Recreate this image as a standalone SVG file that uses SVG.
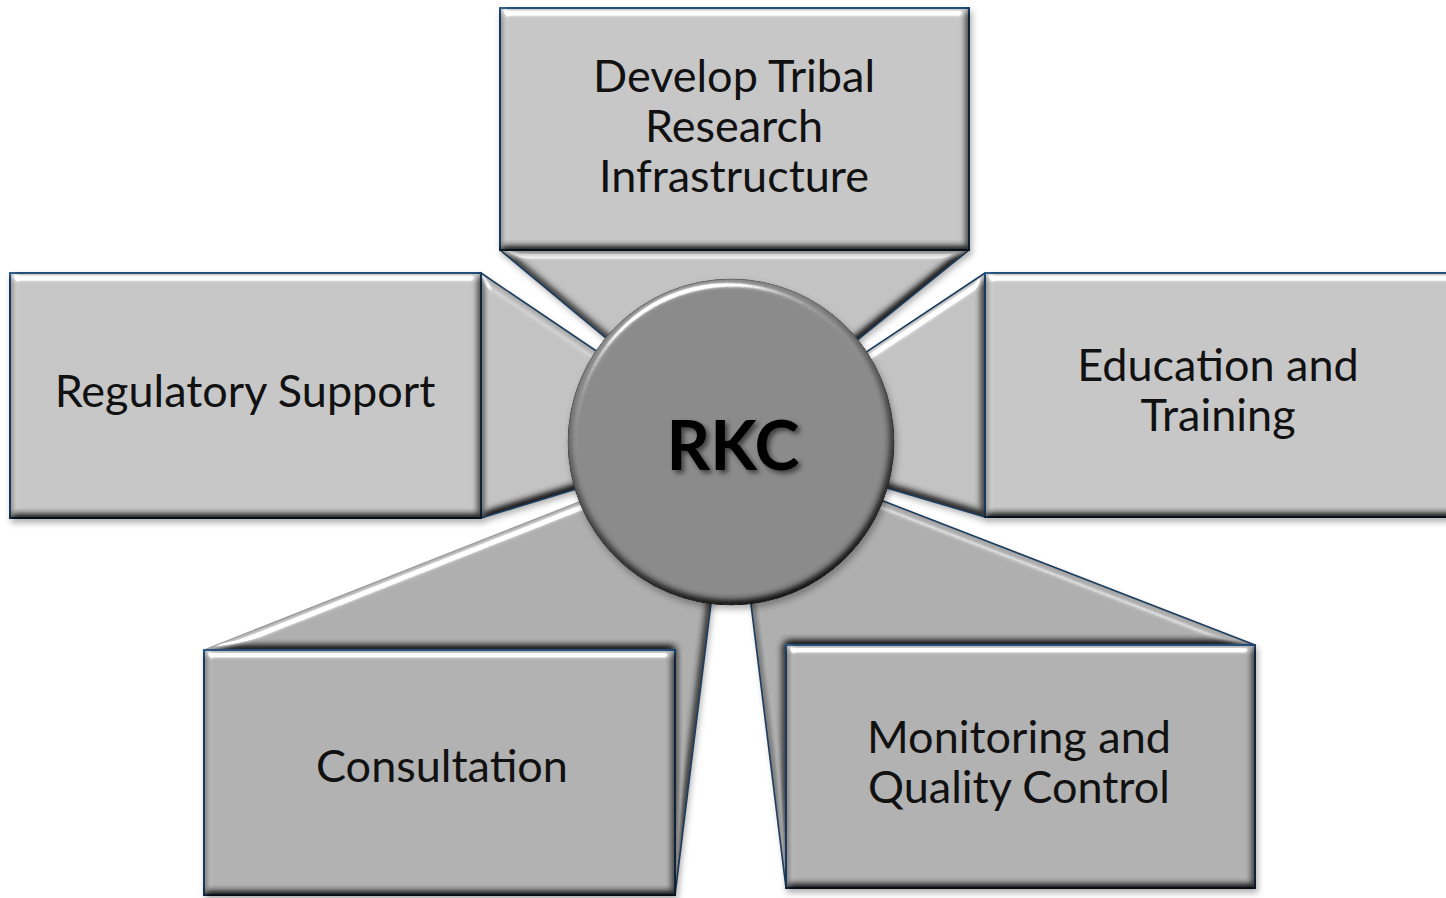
<svg xmlns="http://www.w3.org/2000/svg" width="1446" height="898" viewBox="0 0 1446 898">
<defs>
<style>
.box{stroke:#1f4a75;stroke-width:2}
.top{fill:#c3c3c3}
.low{fill:#aeaeae}
.wtop{fill:#bfbfbf}
.wlow{fill:#ababab}
.edge{fill:none;stroke:#1d3d5e;stroke-width:1.6}
.lbl{font-family:Lato,"Open Sans","Liberation Sans",sans-serif;font-size:45px;fill:#111;text-anchor:middle}
.hub{font-family:Lato,"Open Sans","Liberation Sans",sans-serif;font-size:68px;font-weight:bold;fill:#000;text-anchor:middle}
</style>
<filter id="bevel" x="-10%" y="-10%" width="125%" height="130%" color-interpolation-filters="sRGB">
  <feGaussianBlur in="SourceAlpha" stdDeviation="4.5" result="b"/>
  <feDiffuseLighting in="b" surfaceScale="7" diffuseConstant="1.155" lighting-color="#fff" result="d">
    <feDistantLight azimuth="250" elevation="60"/>
  </feDiffuseLighting>
  <feSpecularLighting in="b" surfaceScale="7" specularConstant="1" specularExponent="35" lighting-color="#fff" result="s">
    <feDistantLight azimuth="250" elevation="35"/>
  </feSpecularLighting>
  <feComposite in="SourceGraphic" in2="d" operator="arithmetic" k1="1" k2="0" k3="0" k4="0" result="lit"/>
  <feComposite in="s" in2="SourceAlpha" operator="in" result="sIn"/>
  <feComposite in="lit" in2="sIn" operator="arithmetic" k1="0" k2="1" k3="1" k4="0" result="o"/>
  <feComposite in="o" in2="SourceAlpha" operator="in" result="shape"/>
  <feGaussianBlur in="SourceAlpha" stdDeviation="3" result="sb"/>
  <feOffset in="sb" dx="2" dy="4" result="so"/>
  <feFlood flood-color="#000" flood-opacity="0.3"/>
  <feComposite in2="so" operator="in" result="shadow"/>
  <feMerge><feMergeNode in="shadow"/><feMergeNode in="shape"/></feMerge>
</filter>
<filter id="tshadow" x="-20%" y="-30%" width="140%" height="160%">
  <feGaussianBlur in="SourceAlpha" stdDeviation="2.5" result="b"/>
  <feOffset in="b" dx="3" dy="3" result="o"/>
  <feFlood flood-color="#000" flood-opacity="0.55"/>
  <feComposite in2="o" operator="in" result="sh"/>
  <feMerge><feMergeNode in="sh"/><feMergeNode in="SourceGraphic"/></feMerge>
</filter>
</defs>
<rect width="1446" height="898" fill="#fff"/>

<g id="connectors">
  <polygon class="wtop" filter="url(#bevel)" points="500,250 969,250 731,442"/>
  <polygon class="wtop" filter="url(#bevel)" points="481,273 731,442 481,518"/>
  <polygon class="wtop" filter="url(#bevel)" points="985,273 731,442 985,517"/>
  <polygon class="wlow" filter="url(#bevel)" points="204,650 731,442 675,895 675,650"/>
  <polygon class="wlow" filter="url(#bevel)" points="1255,645 731,442 786,888 786,645"/>
  <path class="edge" d="M500,250 L731,442 M969,250 L731,442 M481,273 L731,442 M481,518 L731,442 M985,273 L731,442 M985,517 L731,442 M675,895 L731,442 M1255,645 L731,442 M786,888 L731,442"/>
  <path fill="none" stroke="#9a9a9a" stroke-width="1.2" d="M204,650 L731,442"/>
</g>

<g id="node-infrastructure">
  <rect class="box top" filter="url(#bevel)" x="500" y="8" width="469" height="242"/>
  <text class="lbl" x="734" y="92">Develop Tribal</text>
  <text class="lbl" x="734" y="142">Research</text>
  <text class="lbl" x="734" y="192">Infrastructure</text>
</g>
<g id="node-regulatory">
  <rect class="box top" filter="url(#bevel)" x="10" y="273" width="471" height="245"/>
  <text class="lbl" x="245" y="407">Regulatory Support</text>
</g>
<g id="node-education">
  <rect class="box top" filter="url(#bevel)" x="985" y="273" width="480" height="244"/>
  <text class="lbl" x="1218" y="381">Education and</text>
  <text class="lbl" x="1218" y="431">Training</text>
</g>
<g id="node-consultation">
  <rect class="box low" filter="url(#bevel)" x="204" y="650" width="471" height="245"/>
  <text class="lbl" x="442" y="782">Consultation</text>
</g>
<g id="node-monitoring">
  <rect class="box low" filter="url(#bevel)" x="786" y="645" width="469" height="243"/>
  <text class="lbl" x="1019" y="753">Monitoring and</text>
  <text class="lbl" x="1019" y="803">Quality Control</text>
</g>
<g id="node-rkc">
  <circle cx="731" cy="442" r="163" fill="#878787" stroke="#5a5a5a" stroke-width="1" filter="url(#bevel)"/>
  <text class="hub" x="733" y="470" filter="url(#tshadow)">RKC</text>
</g>
</svg>
